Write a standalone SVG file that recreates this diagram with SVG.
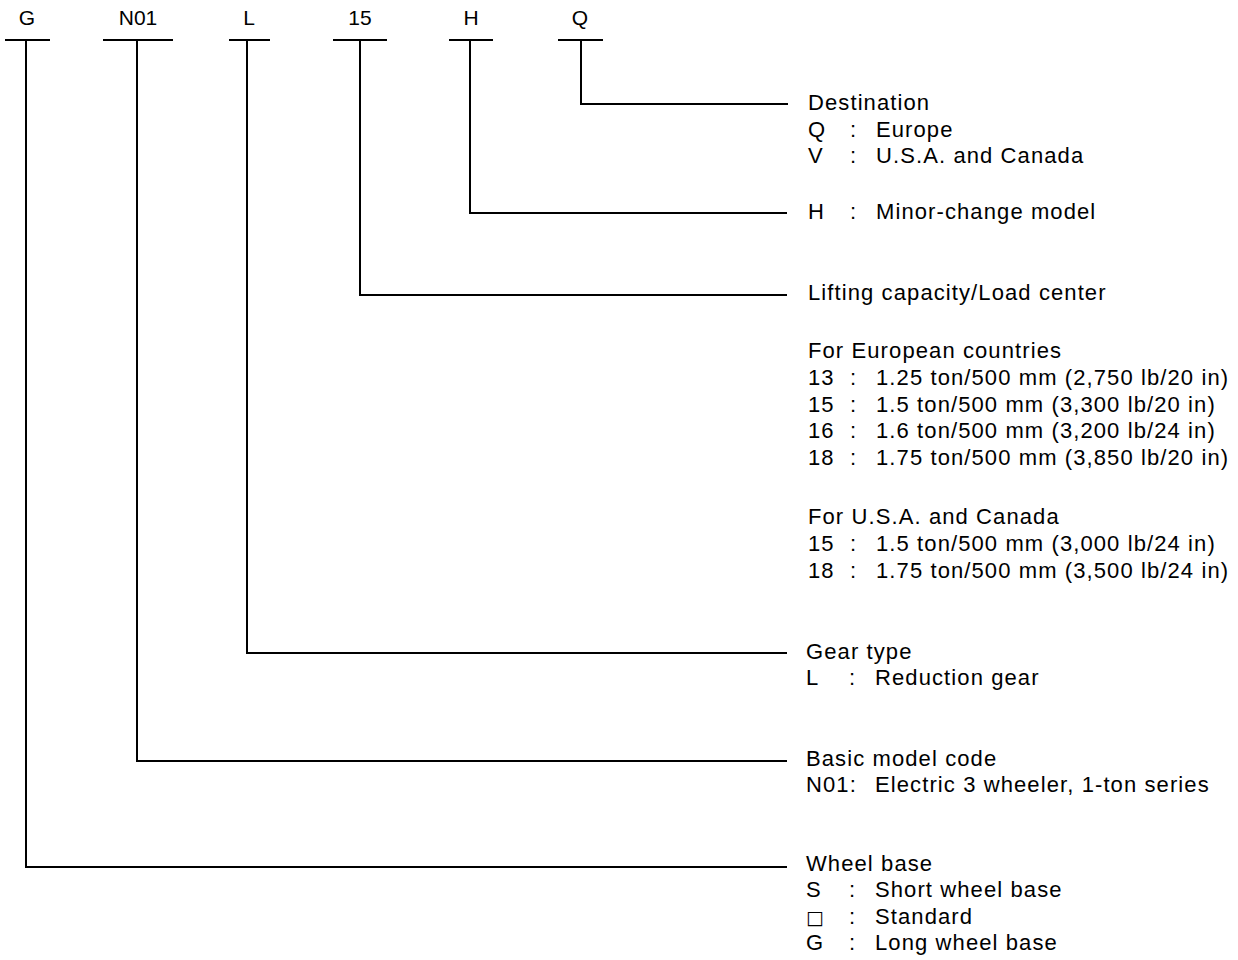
<svg xmlns="http://www.w3.org/2000/svg" width="1238" height="960" viewBox="0 0 1238 960">
<style>
text{font-family:"Liberation Sans",Arial,sans-serif;font-size:22px;letter-spacing:1.1px;fill:#000}
.top{text-anchor:middle;font-size:21px;letter-spacing:0}
.ln{stroke:#000;stroke-width:2;fill:none}
</style>
<rect width="1238" height="960" fill="#fff"/>
<g id="codes">
<g id="code-G"><text class="top" x="27" y="25">G</text><line class="ln" x1="5" y1="40" x2="50" y2="40"/></g>
<g id="code-N01"><text class="top" x="138" y="25">N01</text><line class="ln" x1="103" y1="40" x2="173" y2="40"/></g>
<g id="code-L"><text class="top" x="249" y="25">L</text><line class="ln" x1="229" y1="40" x2="270" y2="40"/></g>
<g id="code-15"><text class="top" x="360" y="25">15</text><line class="ln" x1="333" y1="40" x2="387" y2="40"/></g>
<g id="code-H"><text class="top" x="471" y="25">H</text><line class="ln" x1="449" y1="40" x2="493" y2="40"/></g>
<g id="code-Q"><text class="top" x="580" y="25">Q</text><line class="ln" x1="558" y1="40" x2="603" y2="40"/></g>
</g>
<g id="connectors">
<polyline class="ln" points="581,40 581,104 788,104"/>
<polyline class="ln" points="470,40 470,213 787,213"/>
<polyline class="ln" points="360,40 360,295 787,295"/>
<polyline class="ln" points="247,40 247,653 787,653"/>
<polyline class="ln" points="137,40 137,761 787,761"/>
<polyline class="ln" points="26,40 26,867 787,867"/>
</g>
<g id="desc-destination">
<text x="808" y="110">Destination</text>
<text x="808" y="137">Q</text><text x="850" y="137">:</text><text x="876" y="137">Europe</text>
<text x="808" y="163">V</text><text x="850" y="163">:</text><text x="876" y="163">U.S.A. and Canada</text>
</g>
<g id="desc-minor">
<text x="808" y="219">H</text><text x="850" y="219">:</text><text x="876" y="219">Minor-change model</text>
</g>
<g id="desc-capacity">
<text x="808" y="300">Lifting capacity/Load center</text>
<text x="808" y="358">For European countries</text>
<text x="808" y="385">13</text><text x="850" y="385">:</text><text x="876" y="385">1.25 ton/500 mm (2,750 lb/20 in)</text>
<text x="808" y="412">15</text><text x="850" y="412">:</text><text x="876" y="412">1.5 ton/500 mm (3,300 lb/20 in)</text>
<text x="808" y="438">16</text><text x="850" y="438">:</text><text x="876" y="438">1.6 ton/500 mm (3,200 lb/24 in)</text>
<text x="808" y="465">18</text><text x="850" y="465">:</text><text x="876" y="465">1.75 ton/500 mm (3,850 lb/20 in)</text>
<text x="808" y="524">For U.S.A. and Canada</text>
<text x="808" y="551">15</text><text x="850" y="551">:</text><text x="876" y="551">1.5 ton/500 mm (3,000 lb/24 in)</text>
<text x="808" y="578">18</text><text x="850" y="578">:</text><text x="876" y="578">1.75 ton/500 mm (3,500 lb/24 in)</text>
</g>
<g id="desc-gear">
<text x="806" y="659">Gear type</text>
<text x="806" y="685">L</text><text x="849" y="685">:</text><text x="875" y="685">Reduction gear</text>
</g>
<g id="desc-model">
<text x="806" y="766">Basic model code</text>
<text x="806" y="792">N01:</text><text x="875" y="792">Electric 3 wheeler, 1-ton series</text>
</g>
<g id="desc-wheelbase">
<text x="806" y="871">Wheel base</text>
<text x="806" y="897">S</text><text x="849" y="897">:</text><text x="875" y="897">Short wheel base</text>
<text x="806" y="924" style="font-family:'DejaVu Sans',sans-serif;font-size:19px;letter-spacing:0">□</text><text x="849" y="924">:</text><text x="875" y="924">Standard</text>
<text x="806" y="950">G</text><text x="849" y="950">:</text><text x="875" y="950">Long wheel base</text>
</g>
</svg>
